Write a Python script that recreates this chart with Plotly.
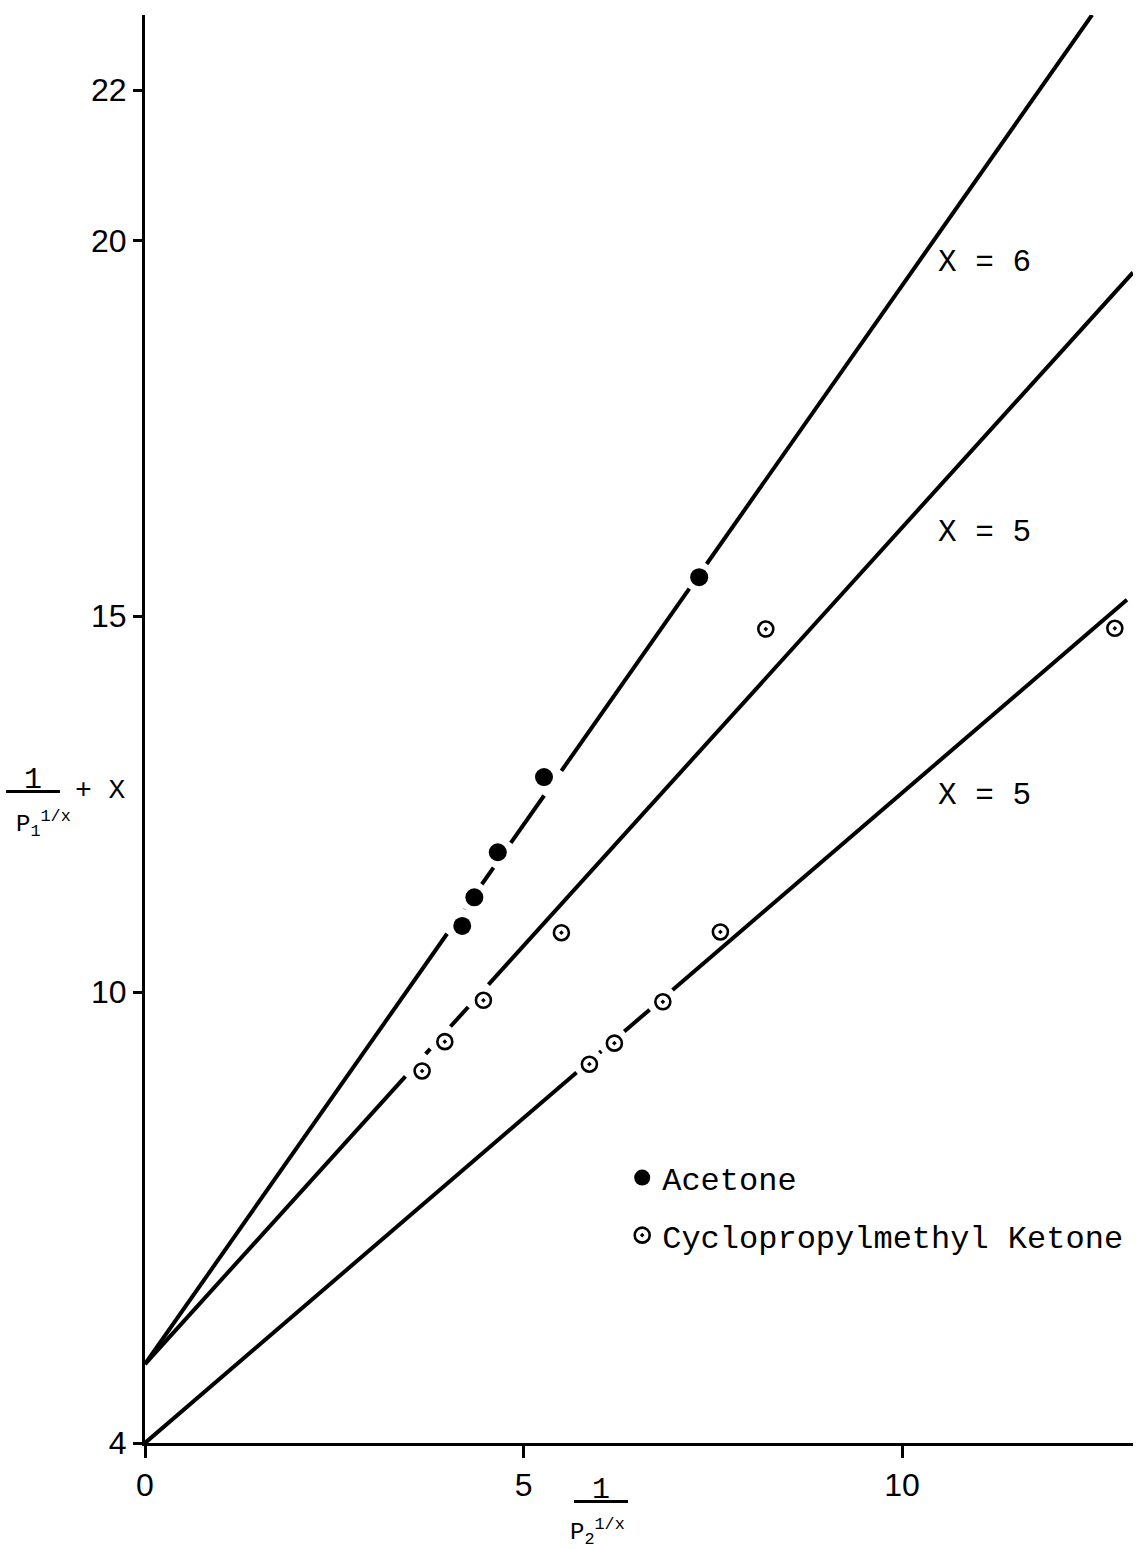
import math
import plotly.graph_objects as go

# ---- data ----
acetone_x = [4.19, 4.35, 4.66, 5.27, 7.32]
acetone_y = [10.88, 11.26, 11.86, 12.86, 15.52]

cpmk_x = [3.66, 3.96, 4.47, 5.50, 8.20, 5.87, 6.20, 6.84, 7.60, 12.81]
cpmk_y = [8.95, 9.34, 9.89, 10.79, 14.83, 9.04, 9.32, 9.87, 10.80, 14.84]

line_names = ["X = 6", "X = 5", "X = 5"]
line_intercepts = [5.05, 5.05, 4.0]
line_slopes = [1.435, 1.113, 0.865]
line_x_end = [12.51, 13.05, 12.97]
label_x = [10.45, 10.45, 10.45]
label_y = [19.71, 16.12, 12.62]

x_tickvals = [0, 5, 10]
x_ticktext = ["0", "5", "10"]
y_tickvals = [4, 10, 15, 20, 22]
y_ticktext = ["4", "10", "15", "20", "22"]

MONO = "Liberation Mono"
HAND = "Liberation Sans"

all_x = acetone_x + cpmk_x
all_y = acetone_y + cpmk_y


def broken_line(b, m, xend, gap=0.2, thr=0.155):
    """Straight fit line, interrupted where it passes through a data point."""
    k = math.sqrt(1 + m * m)
    cuts = []
    for x0, y0 in zip(all_x, all_y):
        d = abs(m * x0 - y0 + b) / k
        if d < thr:
            t = (x0 + m * (y0 - b)) / (1 + m * m)
            dx = gap / k
            cuts.append((t - dx, t + dx))
    cuts.sort()
    xs, ys = [], []
    start = 0.0
    for a, c in cuts:
        if a > start:
            xs += [start, a, None]
            ys += [b + m * start, b + m * a, None]
        start = max(start, c)
    if start < xend:
        xs += [start, xend]
        ys += [b + m * start, b + m * xend]
    return xs, ys


fig = go.Figure()

for b, m, xe in zip(line_intercepts, line_slopes, line_x_end):
    xs, ys = broken_line(b, m, xe)
    fig.add_trace(go.Scatter(x=xs, y=ys, mode="lines",
                             line=dict(color="black", width=4),
                             showlegend=False, hoverinfo="skip",
                             connectgaps=False))

fig.add_trace(go.Scatter(
    x=acetone_x, y=acetone_y, mode="markers", name="Acetone",
    legendgroup="a",
    marker=dict(symbol="circle", size=18, color="black",
                line=dict(width=0))))
fig.add_trace(go.Scatter(
    x=cpmk_x, y=cpmk_y, mode="markers", name="Cyclopropylmethyl Ketone",
    legendgroup="b",
    marker=dict(symbol="circle-dot", size=15, color="white",
                line=dict(width=2.6, color="black"))))

for t, lx, ly in zip(line_names, label_x, label_y):
    fig.add_annotation(x=lx, y=ly, text=t, showarrow=False,
                       xanchor="left", yanchor="middle",
                       font=dict(family=MONO, size=31, color="black"))

# axis titles (fractions)
title_font = dict(family=MONO, size=30, color="black")
sub_font = dict(family=MONO, size=24, color="black")
fig.add_annotation(xref="paper", yref="paper", x=-0.113, y=0.464,
                   xanchor="center", yanchor="middle",
                   text="<u> 1 </u>", showarrow=False, font=title_font)
fig.add_annotation(xref="paper", yref="paper", x=-0.0455, y=0.457,
                   xanchor="center", yanchor="middle",
                   text="+ X", showarrow=False,
                   font=dict(family=MONO, size=28, color="black"))
fig.add_annotation(xref="paper", yref="paper", x=-0.103, y=0.4335,
                   xanchor="center", yanchor="middle",
                   text="P<sub>1</sub><sup>1/x</sup>", showarrow=False,
                   font=sub_font)

fig.add_annotation(xref="paper", yref="paper", x=0.462, y=-0.033,
                   xanchor="center", yanchor="middle",
                   text="<u> 1 </u>", showarrow=False, font=title_font)
fig.add_annotation(xref="paper", yref="paper", x=0.458, y=-0.0625,
                   xanchor="center", yanchor="middle",
                   text="P<sub>2</sub><sup>1/x</sup>", showarrow=False,
                   font=sub_font)

fig.update_xaxes(range=[0, 13.05], showgrid=False, zeroline=False,
                 showline=True, linecolor="black", linewidth=3,
                 ticks="outside", ticklen=12, tickwidth=3, tickcolor="black",
                 tickvals=x_tickvals, ticktext=x_ticktext,
                 tickfont=dict(size=32, color="black", family=HAND))
fig.update_yaxes(range=[4, 23], showgrid=False, zeroline=False,
                 showline=True, linecolor="black", linewidth=3,
                 ticks="outside", ticklen=9, tickwidth=3, tickcolor="black",
                 tickvals=y_tickvals, ticktext=y_ticktext,
                 tickfont=dict(size=32, color="black", family=HAND))

fig.update_layout(
    width=1143, height=1549,
    margin=dict(l=145, r=10, t=15, b=106),
    paper_bgcolor="white", plot_bgcolor="white",
    font=dict(family=MONO, color="black"),
    legend=dict(x=0.483, y=0.205, xanchor="left", yanchor="top",
                bgcolor="rgba(0,0,0,0)", tracegroupgap=13,
                font=dict(family=MONO, size=32, color="black")),
)

fig.write_html("out.html")
